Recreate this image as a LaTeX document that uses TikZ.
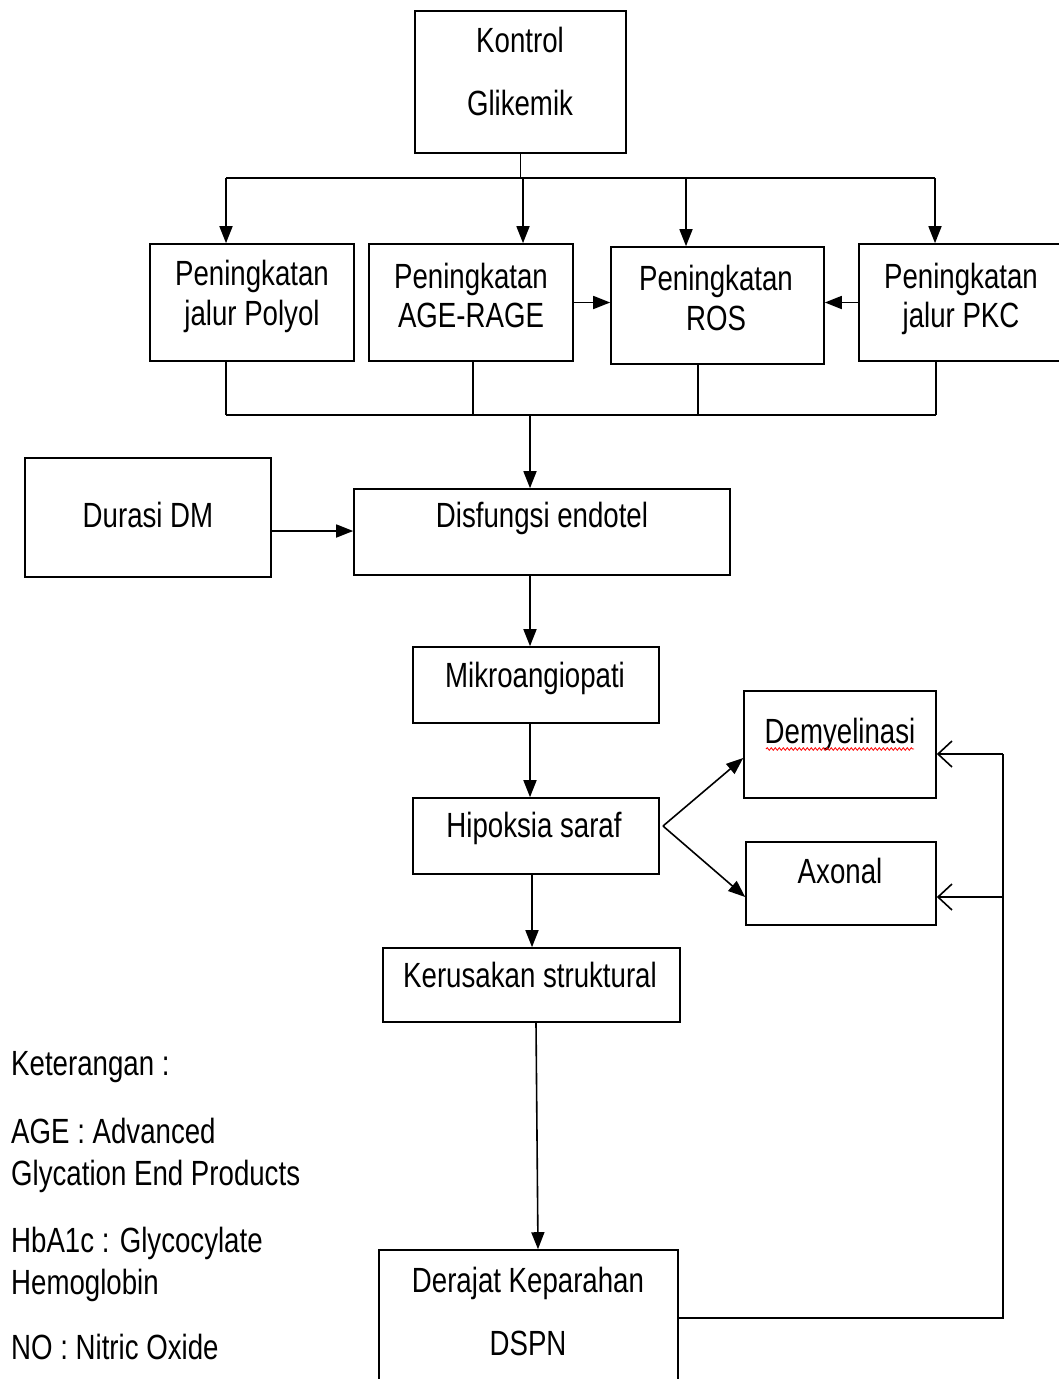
\documentclass[tikz,border=0pt]{standalone}
\usepackage{fontspec}
\setmainfont{Liberation Sans}[FakeStretch=0.79]
\usetikzlibrary{arrows.meta,decorations.pathmorphing}
\begin{document}
\begin{tikzpicture}[x=1pt,y=-1pt,
  box/.style={draw,line width=1.6pt,inner sep=0pt,rectangle},
  txt/.style={anchor=base,inner sep=0pt,font=\fontsize{35}{40}\selectfont},
  ltxt/.style={anchor=base west,inner sep=0pt,font=\fontsize{35}{40}\selectfont},
  ln/.style={line width=1.6pt},
  arr/.style={line width=1.6pt,-{Triangle[length=17pt,width=13pt]}},
  barb/.style={line width=1.6pt,-{Straight Barb[length=14pt,width=26pt,line width=1.6pt]}}]
\useasboundingbox (0,0) rectangle (1059,1379);
\clip (0,0) rectangle (1059,1379);
\fill[white] (0,0) rectangle (1059,1379);

% boxes
\node[box,minimum width=211pt,minimum height=142pt] (kontrol) at (520.5,82) {};
\node[box,minimum width=204pt,minimum height=117pt] (polyol) at (252,302.5) {};
\node[box,minimum width=204pt,minimum height=117pt] (age) at (471,302.5) {};
\node[box,minimum width=213pt,minimum height=117pt] (ros) at (717.5,305.5) {};
\node[box,minimum width=211pt,minimum height=117pt] (pkc) at (964.5,302.5) {};
\node[box,minimum width=246pt,minimum height=119pt] (durasi) at (148,517.5) {};
\node[box,minimum width=376pt,minimum height=86pt] (disf) at (542,532) {};
\node[box,minimum width=246pt,minimum height=76pt] (mikro) at (536,685) {};
\node[box,minimum width=246pt,minimum height=76pt] (hipo) at (536,836) {};
\node[box,minimum width=192pt,minimum height=107pt] (demy) at (840,744.5) {};
\node[box,minimum width=190pt,minimum height=83pt] (axon) at (841,883.5) {};
\node[box,minimum width=297pt,minimum height=74pt] (kerus) at (531.5,985) {};
\node[box,minimum width=299pt,minimum height=150pt] (deraj) at (528.5,1325) {};

% texts
\node[txt] (t1a) at (520,52) {Kontrol};
\node[txt] (t1b) at (520,115) {Glikemik};
\node[txt] (t2a) at (252,285) {Peningkatan};
\node[txt] (t2b) at (252,325) {jalur Polyol};
\node[txt] (t3a) at (471,288) {Peningkatan};
\node[txt] (t3b) at (471,327) {AGE-RAGE};
\node[txt] (t4a) at (716,290) {Peningkatan};
\node[txt] (t4b) at (716,330) {ROS};
\node[txt] (t5a) at (961,288) {Peningkatan};
\node[txt] (t5b) at (961,327) {jalur PKC};
\node[txt] (t6) at (148,527) {Durasi DM};
\node[txt] (t7) at (542,527) {Disfungsi endotel};
\node[txt] (t8) at (535,687) {Mikroangiopati};
\node[txt] (t9) at (840,743) {Demyelinasi};
\node[txt] (t10) at (534,837) {Hipoksia saraf};
\node[txt] (t11) at (840,883) {Axonal};
\node[txt] (t12) at (530,987) {Kerusakan struktural};
\node[txt] (t13a) at (528,1292) {Derajat Keparahan};
\node[txt] (t13b) at (528,1355) {DSPN};
\draw[red,line width=0.8pt,decorate,decoration={snake,amplitude=1.3pt,segment length=4pt}] (766,749) -- (914,749);

% legend
\node[ltxt] (l1) at (11,1075) {Keterangan :};
\node[ltxt] (l2) at (11,1143) {AGE : Advanced};
\node[ltxt] (l3) at (11,1185) {Glycation End Products};
\node[ltxt] (l4) at (11,1252) {HbA1c : Glycocylate};
\node[ltxt] (l5) at (11,1294) {Hemoglobin};
\node[ltxt] (l6) at (11,1359) {NO : Nitric Oxide};

% top distribution
\coordinate (j0) at (520.5,178);
\coordinate (tP) at (226,178);
\coordinate (tA) at (523,178);
\coordinate (tR) at (686,178);
\coordinate (tK) at (935,178);
\draw[ln] (kontrol.south) -- (j0);
\draw[ln] (tP) -- (tK);
\draw[arr] (tP) -- (tP |- polyol.north);
\draw[arr] (tA) -- (tA |- age.north);
\draw[arr] (tR) -- (tR |- ros.north);
\draw[arr] (tK) -- (tK |- pkc.north);
\draw[arr] (age.east) -- (age.east -| ros.west);
\draw[arr] (pkc.west) -- (pkc.west -| ros.east);

% collector
\coordinate (bP) at (226,415);
\coordinate (bA) at (473,415);
\coordinate (bR) at (698,415);
\coordinate (bK) at (936,415);
\coordinate (bM) at (530,415);
\draw[ln] (bP |- polyol.south) -- (bP);
\draw[ln] (bA |- age.south) -- (bA);
\draw[ln] (bR |- ros.south) -- (bR);
\draw[ln] (bK |- pkc.south) -- (bK);
\draw[ln] (bP) -- (bK);
\draw[arr] (bM) -- (bM |- disf.north);

% chain
\coordinate (dA) at (271,531);
\draw[arr] (dA) -- (dA -| disf.west);
\draw[arr] ([xshift=-12pt]disf.south) -- ([xshift=-6pt]mikro.north);
\draw[arr] ([xshift=-6pt]mikro.south) -- ([xshift=-6pt]hipo.north);
\draw[arr] ([xshift=-4pt]hipo.south) -- ([xshift=0.5pt]kerus.north);
\draw[arr] ([xshift=4.5pt]kerus.south) -- ([xshift=9.5pt]deraj.north);

% branches
\coordinate (hB) at (663,826);
\draw[arr] (hB) -- ([yshift=-13.5pt]demy.west);
\draw[arr] (hB) -- ([yshift=-13.5pt]axon.west);

% feedback
\coordinate (fb) at (1003,1318);
\coordinate (fD) at (1003,754);
\coordinate (fA) at (1003,897);
\draw[ln] ([yshift=7pt]deraj.east) -- (fb) -- (fD);
\draw[barb] (fD) -- (fD -| demy.east);
\draw[barb] (fA) -- (fA -| axon.east);
\end{tikzpicture}
\end{document}
